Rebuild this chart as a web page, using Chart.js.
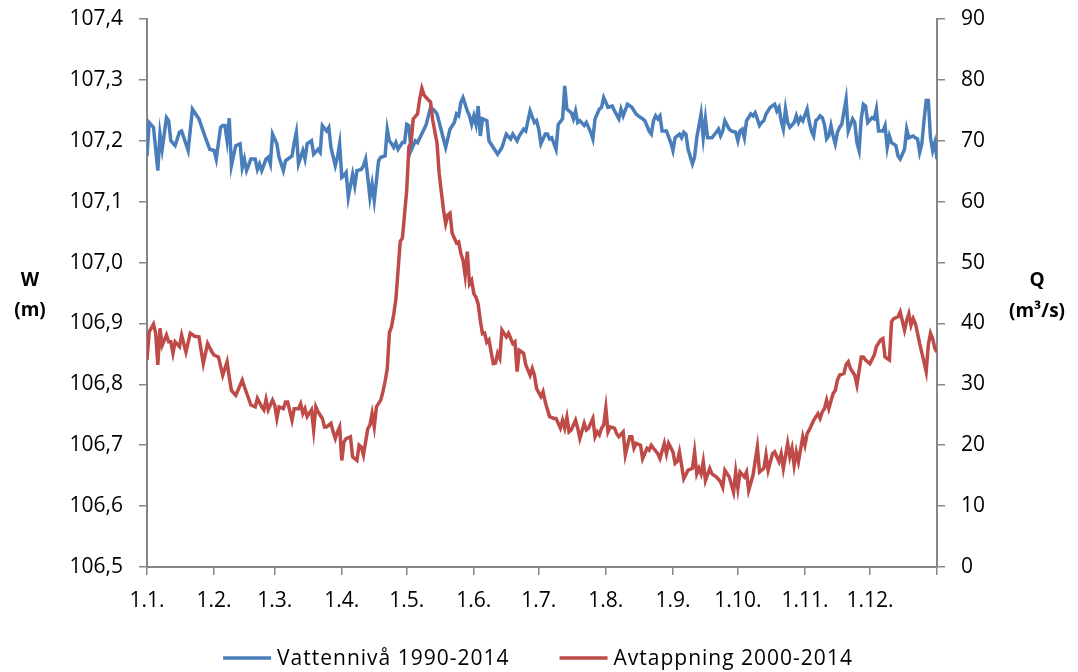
<!DOCTYPE html>
<html>
<head>
<meta charset="utf-8">
<script src="https://cdn.jsdelivr.net/npm/chart.js@4.4.1/dist/chart.umd.min.js"></script>
<style>
  html, body { margin: 0; padding: 0; background: #fff; }
  #wrap { width: 1078px; height: 672px; position: relative; }
</style>
</head>
<body>
<div id="wrap"><canvas id="levelChart"></canvas></div>
<script>
// day-of-year where each month starts, and the axis labels for them
const monthDays = [0, 31, 59, 90, 120, 151, 181, 212, 243, 273, 304, 334];
const monthLabels = ['1.1.', '1.2.', '1.3.', '1.4.', '1.5.', '1.6.', '1.7.', '1.8.', '1.9.', '1.10.', '1.11.', '1.12.'];
const yearEnd = 365;

const levelTicks = [106.5, 106.6, 106.7, 106.8, 106.9, 107.0, 107.1, 107.2, 107.3, 107.4];
const flowTicks = [0, 10, 20, 30, 40, 50, 60, 70, 80, 90];

// water level (m), mean per day of year
const levelDays = [
  0, 1, 3, 5, 6, 7, 9, 10, 11, 13,
  15, 16, 19, 21, 23, 24, 27, 29, 31, 32,
  34, 35, 36, 37, 38, 39, 41, 43, 44, 45,
  46, 48, 50, 51, 52, 53, 55, 56, 57, 58,
  60, 61, 63, 64, 67, 68, 69, 70, 72, 73,
  74, 76, 77, 79, 80, 81, 83, 84, 85, 87,
  88, 89, 90, 91, 92, 93, 95, 96, 97, 99,
  100, 101, 102, 103, 104, 105, 107, 108, 110, 111,
  112, 113, 114, 115, 116, 118, 119, 120, 121, 122,
  124, 125, 128, 129, 131, 133, 134, 138, 140, 142,
  143, 144, 145, 146, 148, 149, 150, 151, 152, 153,
  154, 155, 157, 158, 162, 164, 166, 168, 169, 171,
  172, 174, 175, 177, 179, 180, 181, 182, 184, 185,
  186, 187, 189, 190, 192, 193, 194, 196, 197, 198,
  199, 200, 202, 203, 204, 205, 206, 207, 209, 210,
  211, 213, 215, 216, 218, 219, 220, 222, 224, 226,
  227, 229, 230, 232, 233, 234, 235, 236, 237, 238,
  240, 242, 243, 244, 246, 247, 248, 249, 250, 252,
  253, 254, 256, 257, 258, 259, 261, 263, 264, 265,
  266, 267, 269, 270, 272, 273, 274, 275, 276, 277,
  279, 280, 281, 283, 284, 285, 286, 288, 290, 291,
  292, 293, 294, 295, 296, 297, 299, 300, 301, 302,
  303, 305, 306, 307, 308, 309, 310, 311, 312, 313,
  314, 315, 316, 317, 318, 319, 320, 321, 323, 324,
  326, 327, 328, 329, 330, 331, 332, 333, 335, 336,
  337, 338, 340, 341, 342, 343, 344, 346, 347, 348,
  350, 351, 352, 354, 355, 356, 357, 358, 359, 360,
  361, 362, 363, 364, 365
];
const levelValues = [
  107.175, 107.230, 107.222, 107.151, 107.211, 107.186, 107.238, 107.233, 107.200, 107.192,
  107.214, 107.216, 107.184, 107.252, 107.241, 107.236, 107.205, 107.186, 107.184, 107.170,
  107.222, 107.225, 107.225, 107.200, 107.237, 107.159, 107.192, 107.195, 107.156, 107.170,
  107.151, 107.170, 107.170, 107.153, 107.162, 107.151, 107.170, 107.173, 107.162, 107.211,
  107.195, 107.173, 107.151, 107.167, 107.175, 107.197, 107.214, 107.162, 107.184, 107.170,
  107.195, 107.200, 107.178, 107.186, 107.181, 107.225, 107.216, 107.222, 107.189, 107.159,
  107.173, 107.195, 107.140, 107.143, 107.148, 107.107, 107.145, 107.126, 107.151, 107.153,
  107.159, 107.170, 107.140, 107.107, 107.129, 107.102, 107.167, 107.173, 107.175, 107.219,
  107.200, 107.195, 107.189, 107.197, 107.186, 107.197, 107.197, 107.227, 107.225, 107.184,
  107.200, 107.197, 107.219, 107.227, 107.255, 107.249, 107.244, 107.189, 107.219, 107.230,
  107.244, 107.241, 107.263, 107.271, 107.249, 107.241, 107.227, 107.241, 107.227, 107.257,
  107.208, 107.236, 107.233, 107.200, 107.178, 107.189, 107.211, 107.203, 107.211, 107.200,
  107.208, 107.219, 107.216, 107.249, 107.230, 107.233, 107.219, 107.195, 107.211, 107.211,
  107.203, 107.205, 107.186, 107.227, 107.236, 107.290, 107.252, 107.246, 107.236, 107.249,
  107.230, 107.233, 107.225, 107.230, 107.222, 107.214, 107.203, 107.236, 107.252, 107.255,
  107.271, 107.255, 107.257, 107.249, 107.236, 107.252, 107.241, 107.260, 107.255, 107.244,
  107.241, 107.236, 107.233, 107.216, 107.211, 107.233, 107.241, 107.236, 107.241, 107.216,
  107.216, 107.197, 107.184, 107.205, 107.211, 107.205, 107.214, 107.211, 107.186, 107.162,
  107.173, 107.205, 107.244, 107.205, 107.236, 107.205, 107.205, 107.214, 107.219, 107.208,
  107.216, 107.233, 107.219, 107.216, 107.214, 107.200, 107.216, 107.219, 107.205, 107.233,
  107.244, 107.241, 107.246, 107.225, 107.230, 107.233, 107.244, 107.255, 107.260, 107.249,
  107.255, 107.233, 107.219, 107.252, 107.230, 107.222, 107.230, 107.241, 107.230, 107.238,
  107.233, 107.252, 107.230, 107.216, 107.208, 107.233, 107.236, 107.241, 107.238, 107.227,
  107.203, 107.208, 107.225, 107.208, 107.195, 107.214, 107.222, 107.227, 107.268, 107.216,
  107.236, 107.230, 107.197, 107.184, 107.236, 107.260, 107.257, 107.230, 107.238, 107.236,
  107.252, 107.216, 107.216, 107.225, 107.189, 107.208, 107.197, 107.192, 107.175, 107.170,
  107.186, 107.219, 107.205, 107.208, 107.205, 107.203, 107.181, 107.195, 107.233, 107.266,
  107.266, 107.205, 107.184, 107.197, 107.170
];

// discharge (m3/s), mean per day of year
const flowDays = [
  0, 1, 3, 4, 5, 6, 7, 9, 10, 11,
  12, 13, 15, 16, 18, 20, 22, 24, 26, 28,
  30, 31, 33, 35, 37, 38, 39, 41, 42, 44,
  45, 48, 50, 51, 53, 54, 55, 56, 58, 59,
  60, 61, 63, 64, 65, 67, 68, 70, 71, 72,
  73, 74, 76, 77, 78, 79, 81, 82, 83, 85,
  86, 87, 88, 89, 90, 91, 92, 94, 95, 97,
  98, 99, 100, 102, 103, 104, 105, 106, 108, 109,
  110, 111, 112, 113, 114, 115, 117, 118, 120, 121,
  122, 123, 125, 126, 127, 128, 130, 131, 132, 134,
  135, 137, 138, 139, 140, 141, 143, 144, 145, 146,
  147, 148, 149, 150, 151, 152, 153, 154, 155, 156,
  157, 158, 159, 160, 161, 162, 163, 164, 166, 167,
  169, 170, 171, 172, 174, 175, 177, 178, 179, 180,
  182, 183, 184, 186, 188, 189, 191, 192, 193, 194,
  195, 196, 198, 199, 200, 202, 203, 204, 206, 207,
  208, 209, 210, 211, 212, 213, 214, 216, 217, 218,
  220, 221, 223, 224, 225, 226, 228, 229, 231, 232,
  233, 234, 236, 237, 239, 240, 241, 243, 244, 245,
  246, 248, 250, 252, 253, 254, 255, 256, 257, 258,
  260, 261, 263, 265, 266, 267, 269, 271, 272, 273,
  274, 276, 277, 278, 280, 282, 283, 285, 286, 287,
  289, 290, 291, 292, 293, 294, 296, 297, 298, 299,
  300, 301, 303, 304, 305, 306, 307, 308, 310, 311,
  312, 313, 314, 315, 317, 318, 319, 320, 322, 323,
  324, 325, 327, 328, 330, 331, 332, 334, 336, 337,
  339, 340, 341, 343, 344, 345, 347, 348, 350, 351,
  352, 353, 354, 355, 356, 357, 359, 360, 361, 362,
  363, 364, 365
];
const flowValues = [
  34.0, 38.6, 39.9, 38.4, 33.2, 39.2, 36.4, 38.1, 37.0, 37.0,
  35.1, 37.0, 36.2, 38.1, 35.3, 38.4, 37.9, 37.8, 33.4, 36.7,
  35.3, 34.8, 34.5, 31.5, 33.7, 31.2, 29.0, 28.2, 29.0, 30.7,
  29.6, 26.6, 26.3, 27.7, 26.3, 25.8, 27.5, 25.8, 27.4, 26.6,
  24.4, 26.3, 26.0, 27.1, 27.1, 24.1, 26.0, 26.0, 26.8, 25.2,
  26.0, 24.7, 25.8, 22.5, 26.3, 25.5, 24.4, 23.0, 23.0, 23.6,
  22.2, 21.1, 22.2, 23.0, 17.5, 20.5, 21.1, 21.4, 18.1, 17.5,
  20.0, 19.7, 18.4, 22.7, 23.3, 25.2, 23.0, 26.3, 27.4, 28.8,
  30.5, 32.5, 38.5, 39.5, 41.5, 44.0, 53.5, 54.0, 61.9, 69.0,
  69.6, 73.6, 74.4, 76.9, 78.6, 77.5, 76.7, 76.4, 73.4, 69.6,
  64.6, 58.6, 56.4, 57.8, 58.1, 54.8, 53.2, 53.4, 51.5, 50.4,
  47.9, 51.8, 46.5, 47.1, 44.9, 44.3, 43.2, 40.5, 38.3, 38.4,
  36.9, 37.3, 35.3, 33.4, 33.5, 35.1, 34.3, 38.9, 37.8, 38.4,
  36.7, 37.0, 32.1, 35.6, 35.1, 33.2, 31.5, 32.6, 31.5, 29.3,
  28.0, 28.8, 27.1, 24.7, 24.4, 24.4, 22.8, 24.1, 22.8, 24.6,
  22.2, 22.5, 24.1, 22.8, 21.1, 23.6, 22.5, 22.8, 24.4, 21.4,
  22.2, 21.7, 22.8, 23.3, 26.1, 22.2, 23.0, 22.8, 21.9, 21.4,
  22.2, 18.4, 21.4, 21.4, 19.5, 20.3, 20.0, 17.8, 19.5, 19.2,
  20.0, 19.5, 18.6, 17.8, 20.3, 18.6, 20.3, 18.9, 17.0, 17.3,
  18.9, 14.5, 15.9, 16.2, 18.9, 15.3, 16.2, 15.3, 17.3, 14.2,
  16.2, 15.3, 14.8, 14.0, 13.1, 15.9, 14.8, 12.3, 15.6, 12.9,
  15.6, 14.8, 15.6, 12.6, 15.1, 19.7, 15.6, 16.2, 18.4, 15.9,
  18.6, 18.9, 18.1, 17.3, 18.6, 16.2, 20.3, 18.1, 19.5, 16.7,
  18.9, 17.3, 21.4, 20.0, 21.9, 22.5, 23.3, 24.1, 25.2, 24.4,
  25.5, 26.0, 27.4, 26.0, 28.5, 29.0, 30.7, 31.5, 31.8, 33.2,
  33.7, 32.6, 31.5, 29.9, 34.5, 34.5, 34.0, 33.4, 34.8, 36.2,
  37.3, 37.5, 34.5, 34.0, 40.3, 40.8, 41.1, 41.9, 38.9, 40.5,
  41.6, 39.7, 40.8, 40.0, 38.4, 36.7, 33.7, 32.1, 36.5, 38.4,
  37.5, 35.9, 35.3
];

const FONT = "'Open Sans', 'Liberation Sans', sans-serif";
const AXIS_GREY = '#868686';
const BLUE = '#4A7EBB';
const RED = '#BE4B48';
const LINE_W = 3.5;

const toPoints = (xs, ys) => xs.map((x, i) => ({ x: x, y: ys[i] }));
const comma = v => v.toFixed(1).replace('.', ',');

// axis titles written horizontally beside each axis, plus the legend row
const decorations = {
  id: 'decorations',
  afterDraw(chart) {
    const ctx = chart.ctx;
    ctx.save();
    ctx.fillStyle = '#000';
    ctx.textAlign = 'center';
    ctx.textBaseline = 'middle';
    ctx.font = 'bold 19px ' + FONT;
    ctx.fillText('W', 30, 281);
    ctx.fillText('(m)', 30, 311);
    ctx.fillText('Q', 1037, 281);
    ctx.fillText('(m³/s)', 1037, 312);

    ctx.font = '21px ' + FONT;
    ctx.letterSpacing = '1px';
    ctx.textAlign = 'left';
    const lineLen = 48, textGap = 6, itemGap = 50;
    const items = chart.data.datasets.map(ds => ({
      label: ds.label,
      color: ds.borderColor,
      w: lineLen + textGap + ctx.measureText(ds.label).width
    }));
    const total = items.reduce((s, it) => s + it.w, 0) + itemGap * (items.length - 1);
    let x = (chart.chartArea.left + chart.chartArea.right) / 2 - total / 2 - 4;
    const y = 658;
    items.forEach(it => {
      ctx.strokeStyle = it.color;
      ctx.lineWidth = LINE_W;
      ctx.beginPath();
      ctx.moveTo(x, y);
      ctx.lineTo(x + lineLen, y);
      ctx.stroke();
      ctx.fillText(it.label, x + lineLen + textGap, y + 1);
      x += it.w + itemGap;
    });
    ctx.restore();
  }
};

const axisGrid = {
  display: true,
  drawOnChartArea: false,
  drawTicks: true,
  tickLength: 8,
  color: AXIS_GREY,
  lineWidth: 1.5
};
const axisBorder = { display: true, color: AXIS_GREY, width: 2 };
const tickFont = { family: FONT, size: 21 };

// fixed axis boxes so the plot area lands on the same pixels every time
const fixBox = (w, h) => scale => {
  if (w !== null) scale.width = w;
  if (h !== null) scale.height = h;
  scale.paddingTop = 0;
  scale.paddingBottom = 0;
  scale.paddingLeft = 0;
  scale.paddingRight = 0;
};

new Chart(document.getElementById('levelChart'), {
  type: 'line',
  data: {
    datasets: [
      {
        label: 'Vattennivå 1990-2014',
        data: toPoints(levelDays, levelValues),
        yAxisID: 'yLevel',
        borderColor: BLUE,
        backgroundColor: BLUE,
        borderWidth: LINE_W,
        pointRadius: 0,
        tension: 0,
        order: 2
      },
      {
        label: 'Avtappning 2000-2014',
        data: toPoints(flowDays, flowValues),
        yAxisID: 'yFlow',
        borderColor: RED,
        backgroundColor: RED,
        borderWidth: LINE_W,
        pointRadius: 0,
        tension: 0,
        order: 1
      }
    ]
  },
  options: {
    responsive: true,
    maintainAspectRatio: false,
    animation: false,
    devicePixelRatio: 1,
    layout: { padding: { top: 19, left: 0, right: 0, bottom: 0 } },
    plugins: {
      legend: { display: false },
      tooltip: { enabled: false }
    },
    scales: {
      x: {
        type: 'linear',
        min: 0,
        max: yearEnd,
        grid: axisGrid,
        border: axisBorder,
        afterBuildTicks: axis => {
          axis.ticks = monthDays.concat([yearEnd]).map(v => ({ value: v }));
        },
        afterFit: fixBox(null, 105),
        ticks: {
          autoSkip: false,
          maxRotation: 0,
          minRotation: 0,
          padding: 13,
          color: '#000',
          font: tickFont,
          callback: value => {
            const i = monthDays.indexOf(value);
            return i >= 0 ? monthLabels[i] : '';
          }
        }
      },
      yLevel: {
        type: 'linear',
        position: 'left',
        min: levelTicks[0],
        max: levelTicks[levelTicks.length - 1],
        grid: axisGrid,
        border: axisBorder,
        afterBuildTicks: axis => {
          axis.ticks = levelTicks.map(v => ({ value: v }));
        },
        afterFit: fixBox(147, null),
        ticks: {
          padding: 16,
          color: '#000',
          font: tickFont,
          callback: value => comma(value)
        }
      },
      yFlow: {
        type: 'linear',
        position: 'right',
        min: flowTicks[0],
        max: flowTicks[flowTicks.length - 1],
        grid: axisGrid,
        border: axisBorder,
        afterBuildTicks: axis => {
          axis.ticks = flowTicks.map(v => ({ value: v }));
        },
        afterFit: fixBox(141, null),
        ticks: {
          padding: 16,
          color: '#000',
          font: tickFont,
          callback: value => String(value)
        }
      }
    }
  },
  plugins: [decorations]
});
</script>
</body>
</html>
